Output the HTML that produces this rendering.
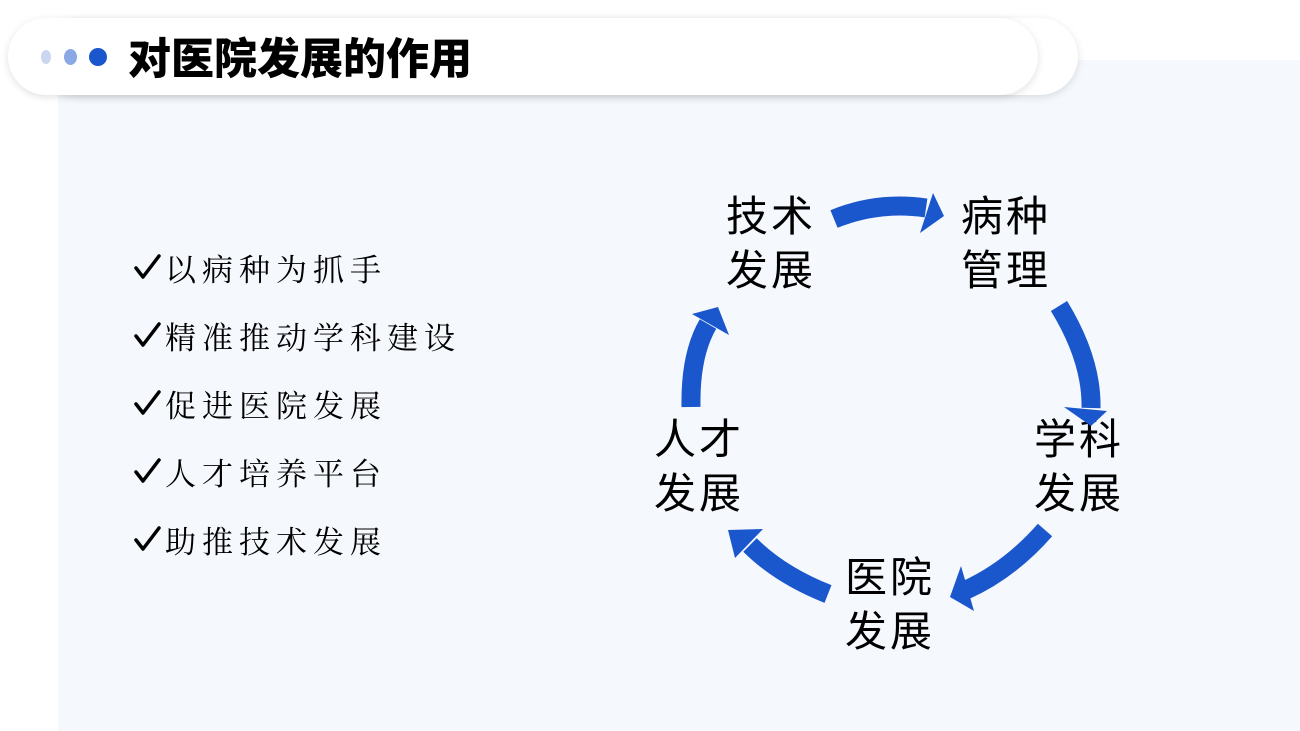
<!DOCTYPE html>
<html><head><meta charset="utf-8"><style>
body{margin:0;width:1300px;height:731px;position:relative;overflow:hidden;background:#fff;font-family:"Liberation Sans","Noto Sans CJK SC",sans-serif}
.panel{position:absolute;left:58px;top:60px;width:1242px;height:671px;background:#f5f8fd}
.pill2{position:absolute;left:40px;top:18px;width:1038px;height:77px;border-radius:40px;background:#fff;box-shadow:0 2px 8px rgba(0,0,0,.12)}
.pill{position:absolute;left:8px;top:18px;width:1030px;height:77px;border-radius:40px;background:#fff;box-shadow:0 2px 8px rgba(0,0,0,.12)}
.dot{position:absolute;top:50px;border-radius:50%}
.title{position:absolute;left:128px;top:32px;font-size:43px;font-weight:900;color:#000;line-height:56px;letter-spacing:0}
.li{position:absolute;left:165px;font-family:"Noto Serif CJK SC",serif;font-size:31px;letter-spacing:6px;color:#000;line-height:40px}
.lab{position:absolute;font-size:42px;line-height:54px;color:#000;letter-spacing:3px}
</style></head><body>
<div class="panel"></div>
<div class="pill2"></div>
<div class="pill"></div>
<div class="dot" style="left:41px;width:10px;height:14px;background:#cbd7f0"></div>
<div class="dot" style="left:64px;width:13px;height:16px;top:49px;background:#8aa8e4"></div>
<div class="dot" style="left:89px;width:18px;height:18px;top:48px;background:#1a56cc"></div>
<div class="title">对医院发展的作用</div>
<div class="li" style="top:248px">以病种为抓手</div>
<div class="li" style="top:316px">精准推动学科建设</div>
<div class="li" style="top:384px">促进医院发展</div>
<div class="li" style="top:452px">人才培养平台</div>
<div class="li" style="top:520px">助推技术发展</div>
<div class="lab" style="left:726px;top:190px">技术<br>发展</div>
<div class="lab" style="left:961px;top:190px">病种<br>管理</div>
<div class="lab" style="left:1034px;top:413px">学科<br>发展</div>
<div class="lab" style="left:654px;top:413px">人才<br>发展</div>
<div class="lab" style="left:845px;top:551px">医院<br>发展</div>
<svg width="1300" height="731" style="position:absolute;left:0;top:0" fill="#1a56cc">
<g fill="none" stroke="#000" stroke-width="3.5" stroke-linecap="round" stroke-linejoin="round">
<path d="M136,268 L143,277 L159,256"/>
<path d="M136,336 L143,345 L159,324"/>
<path d="M136,404 L143,413 L159,392"/>
<path d="M136,472 L143,481 L159,460"/>
<path d="M136,540 L143,549 L159,528"/>
</g>
<g fill="none" stroke="#1a56cc" stroke-width="19">
<path d="M834,219 Q878,201 926,208"/>
<path d="M1059,306 Q1092,360 1091,408"/>
<path d="M1045,530 Q1010,570 966,590"/>
<path d="M828,594 Q780,575 750,545"/>
<path d="M691,407 Q690,355 708,324"/>
</g>
<polygon points="944,216 933,193 920,233"/>
<polygon points="1091,426 1064,407 1107,411"/>
<polygon points="950,597 961,566 974,611"/>
<polygon points="728,530 763,529 735,558"/>
<polygon points="718,307 692,314 729,335"/>
</svg>
</body></html>
